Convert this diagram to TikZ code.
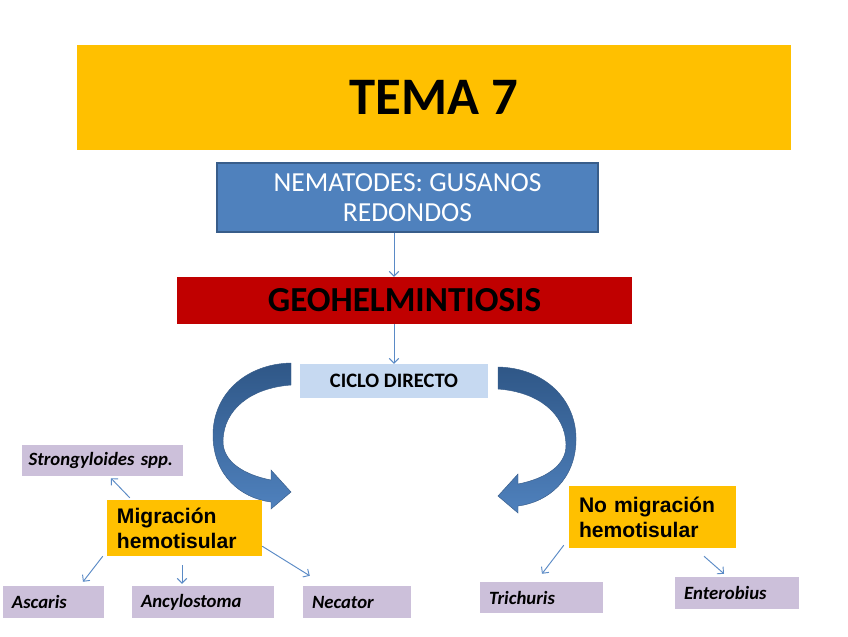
\documentclass[tikz,border=0pt]{standalone}
\usepackage{fontspec}
\setmainfont{Carlito}
\newfontfamily\arialfont{Liberation Sans}
\usetikzlibrary{arrows.meta,positioning,calc}
\definecolor{tmgold}{HTML}{FFC000}
\definecolor{tmblue}{HTML}{4F81BD}
\definecolor{tmnavy}{HTML}{385D8A}
\definecolor{tmdeep}{HTML}{2F5787}
\definecolor{tmred}{HTML}{C00000}
\definecolor{tmsky}{HTML}{C6D9F1}
\definecolor{tmlilac}{HTML}{CCC0DA}
\definecolor{tmline}{HTML}{5A8AC6}

\begin{document}
\begin{tikzpicture}[x=0.03cm, y=-0.03cm,
  box/.style={inner sep=0pt, align=center},
  tagbox/.style={fill=tmlilac, inner ysep=0pt, inner xsep=0.27cm, align=left,
    font=\fontsize{16}{18}\selectfont\bfseries\itshape},
  groupbox/.style={fill=tmgold, inner ysep=0pt, inner xsep=0.3cm, align=left,
    font=\arialfont\fontsize{18}{21.5}\selectfont\bfseries},
  conn/.style={draw=tmline, line width=0.8pt, -{Straight Barb[length=4pt,width=8pt]}},
  bendarrow/.style={draw=tmnavy, line width=0.4pt, top color=tmdeep, bottom color=tmblue}]

  % ---- Canvas ----
  \fill[white] (0,0) rectangle (848,636);
  \useasboundingbox (0,0) rectangle (848,636);

  % ============ HEADER ============
  \node[box, fill=tmgold, minimum width=21.42cm, minimum height=3.15cm,
        font=\fontsize{45}{54}\selectfont\bfseries] (tema) at (434,97.5) {TEMA 7};

  \node[box, fill=tmblue, draw=tmnavy, line width=1pt, text=white,
        minimum width=11.43cm, minimum height=2.07cm,
        font=\fontsize{23.5}{25.5}\selectfont] (nem) at (407.5,197.5)
    {NEMATODES: GUSANOS\\REDONDOS};

  \node[box, fill=tmred, minimum width=13.65cm, minimum height=1.41cm,
        font=\fontsize{30}{36}\selectfont\bfseries] (geo) at (404.5,300.5)
    {GEOHELMINTIOSIS};

  \node[box, fill=tmsky, minimum width=5.64cm, minimum height=1.02cm,
        font=\fontsize{17.5}{21}\selectfont\bfseries] (ciclo) at (394,381)
    {CICLO DIRECTO};

  \draw[conn] (nem.south -| ciclo) -- (geo.north -| ciclo);
  \draw[conn] (geo.south -| ciclo) -- (ciclo.north);

  % ============ CURVED ARROWS ============
  % Left: towards migration
  \path[bendarrow]
    (291,363) .. controls (245,364) and (212,395) .. (213,437)
    .. controls (214,475) and (240,498) .. (271,502)
    -- (271,509) -- (291,492) -- (271,470) -- (271,480)
    .. controls (245,475) and (222,462) .. (223,440)
    .. controls (224,410) and (250,388) .. (291,385) -- cycle;
  % Right: mirrored, towards no migration
  \begin{scope}[shift={(789,4)}, xscale=-1]
    \path[bendarrow]
      (291,363) .. controls (245,364) and (212,395) .. (213,437)
      .. controls (214,475) and (240,498) .. (271,502)
      -- (271,509) -- (291,492) -- (271,470) -- (271,480)
      .. controls (245,475) and (222,462) .. (223,440)
      .. controls (224,410) and (250,388) .. (291,385) -- cycle;
  \end{scope}

  % ---- LEFT GROUP: Migracion hemotisular ----
  \node[groupbox, text width=4.05cm, minimum height=1.68cm] (mig) at (184.5,528)
    {Migración\\hemotisular};

  \node[tagbox, inner xsep=0.2cm, text width=4.43cm, minimum height=0.93cm] (strong)
    at (102.5,460.5) {Strongyloides spp.};
  \node[tagbox, text width=2.49cm, minimum height=0.96cm] (asc) at (53.5,602) {Ascaris};
  \node[tagbox, text width=3.72cm, minimum height=0.96cm] (anc) at (203,602) {Ancylostoma};
  \node[tagbox, text width=2.70cm, minimum height=0.96cm] (nec) at (357,602) {Necator};

  \draw[conn] ([shift={(23,-2)}]mig.north west) -- ([shift={(8.5,2)}]strong.south);
  \draw[conn] ([shift={(-4,0)}]mig.south west) -- ([shift={(29.5,-4)}]asc.north);
  \draw[conn] ([shift={(-2.5,9)}]mig.south) -- ([shift={(-21,-2)}]anc.north);
  \draw[conn] ([shift={(0,-10)}]mig.south east) -- ([shift={(7,-10)}]nec.north west);

  % ---- RIGHT GROUP: No migracion hemotisular ----
  \node[groupbox, text width=4.41cm, minimum height=1.86cm] (nomig) at (652.5,517)
    {No migración\\hemotisular};

  \node[tagbox, text width=3.15cm, minimum height=0.93cm] (tri) at (541.5,597.5) {Trichuris};
  \node[tagbox, text width=3.18cm, minimum height=0.96cm] (ent) at (737,593) {Enterobius};

  \draw[conn] ([shift={(-5,-3)}]nomig.south west) -- ([shift={(0.5,-8)}]tri.north);
  \draw[conn] ([shift={(51.5,8)}]nomig.south) -- ([shift={(-13,-3)}]ent.north);

\end{tikzpicture}
\end{document}
